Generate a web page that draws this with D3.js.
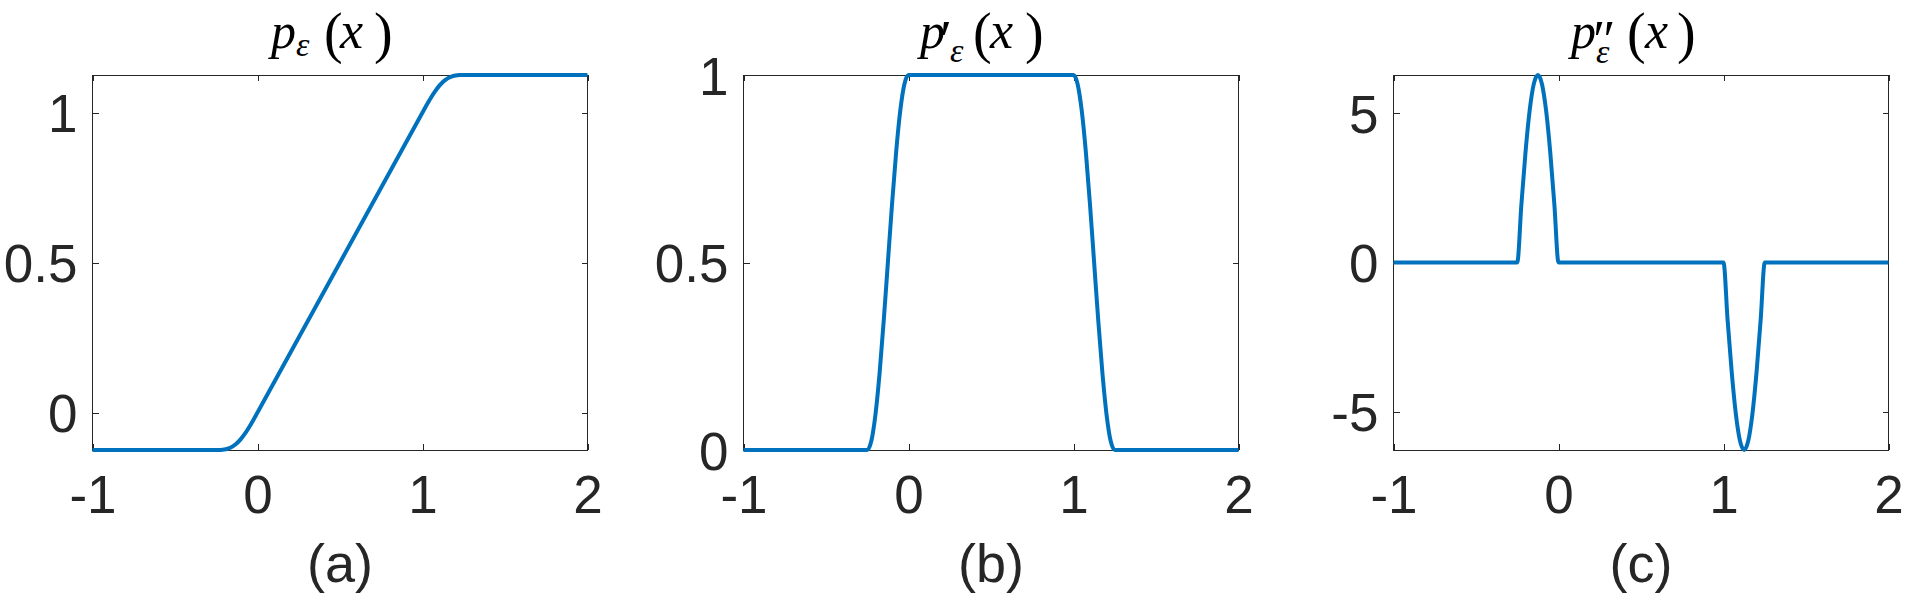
<!DOCTYPE html>
<html>
<head>
<meta charset="utf-8">
<script src="https://d3js.org/d3.v7.min.js"></script>
<style>
body { margin: 0; background: #fff; }
svg { display: block; }
</style>
</head>
<body>
<script>
// values (shared x samples)
var xVals   = [-1, -0.25, -0.225, -0.2, -0.175, -0.15, -0.125, -0.1, -0.075, -0.05, -0.025, 0,
               1, 1.025, 1.05, 1.075, 1.1, 1.125, 1.15, 1.175, 1.2, 1.225, 1.25, 2];
var pVals   = [-0.125, -0.125, -0.1248, -0.1234, -0.1197, -0.1128, -0.1023, -0.0878, -0.0697, -0.0484, -0.0248, 0,
               1, 1.0248, 1.0484, 1.0697, 1.0878, 1.1023, 1.1128, 1.1197, 1.1234, 1.1248, 1.125, 1.125];
var dpVals  = [0, 0, 0.0245, 0.0955, 0.2061, 0.3455, 0.5, 0.6545, 0.7939, 0.9045, 0.9755, 1,
               1, 0.9755, 0.9045, 0.7939, 0.6545, 0.5, 0.3455, 0.2061, 0.0955, 0.0245, 0, 0];
var ddpVals = [0, 0, 1.9416, 3.6932, 5.0832, 5.9757, 6.2832, 5.9757, 5.0832, 3.6932, 1.9416, 0,
               0, -1.9416, -3.6932, -5.0832, -5.9757, -6.2832, -5.9757, -5.0832, -3.6932, -1.9416, 0, 0];

var xLim = [-1, 2];
var xTicks = [-1, 0, 1, 2];
var pLim = [-0.125, 1.125],   pTicks = [0, 0.5, 1];
var dpLim = [0, 1],           dpTicks = [0, 0.5, 1];
var ddpLim = [-6.2832, 6.2832], ddpTicks = [-5, 0, 5];
var panelLabels = ["(a)", "(b)", "(c)"];

var W = 1907, H = 596;
var top_ = 75, bottom_ = 450, pw = 495;
var lefts = [92.5, 743.5, 1393.5];
var ink = "#262626";
var sans = "'Liberation Sans', Arial, Helvetica, sans-serif";
var serif = "'Liberation Serif', 'Times New Roman', serif";

var svg = d3.select("body")
    .append("svg")
    .attr("width", W)
    .attr("height", H);

// title pieces: p, primes, subscript epsilon, (x)
var titles = [
    [ {t:"p", dx:-69, y:48, s:50, it:1}, {t:"ε", dx:-44, y:56, s:34, it:1},
      {t:"(", dx:-16, y:52, s:56}, {t:"x", dx:0, y:48, s:52, it:1}, {t:")", dx:34, y:52, s:56} ],
    [ {t:"p", dx:-71, y:48, s:50, it:1}, {t:"′", dx:-51, y:58, s:54}, {t:"ε", dx:-41, y:62, s:34, it:1},
      {t:"(", dx:-18, y:52, s:56}, {t:"x", dx:-1, y:48, s:52, it:1}, {t:")", dx:34, y:52, s:56} ],
    [ {t:"p", dx:-70, y:48, s:50, it:1}, {t:"″", dx:-48, y:58, s:54}, {t:"ε", dx:-45, y:63, s:34, it:1},
      {t:"(", dx:-14, y:52, s:56}, {t:"x", dx:4, y:48, s:52, it:1}, {t:")", dx:36, y:52, s:56} ]
];

function drawPanel(i, yVals, yLim, yTicks) {
    var x0 = lefts[i];
    var xScale = d3.scaleLinear().domain(xLim).range([x0, x0 + pw]);
    var yScale = d3.scaleLinear().domain(yLim).range([bottom_, top_]);
    var g = svg.append("g").attr("class", "panel");
    var cx = x0 + pw / 2;

    // bottom / left axes with labels, ticks pointing inward
    var xAxisG = g.append("g")
        .attr("transform", "translate(0," + bottom_ + ")")
        .call(d3.axisBottom(xScale).tickValues(xTicks).tickSizeInner(-6).tickSizeOuter(0)
            .tickPadding(25).tickFormat(function (d) { return String(d); }));
    var yAxisG = g.append("g")
        .attr("transform", "translate(" + x0 + ",0)")
        .call(d3.axisLeft(yScale).tickValues(yTicks).tickSizeInner(-6).tickSizeOuter(0)
            .tickPadding(15).tickFormat(function (d) { return String(d); }));
    // mirrored ticks on top / right
    var topG = g.append("g")
        .attr("transform", "translate(0," + top_ + ")")
        .call(d3.axisTop(xScale).tickValues(xTicks).tickSizeInner(-6).tickSizeOuter(0).tickFormat(""));
    var rightG = g.append("g")
        .attr("transform", "translate(" + (x0 + pw) + ",0)")
        .call(d3.axisRight(yScale).tickValues(yTicks).tickSizeInner(-6).tickSizeOuter(0).tickFormat(""));

    [xAxisG, yAxisG, topG, rightG].forEach(function (a) {
        a.attr("color", ink).attr("font-family", sans).attr("font-size", 53);
        a.select(".domain").remove();
        a.selectAll("line").attr("shape-rendering", "crispEdges");
    });
    yAxisG.selectAll("text").attr("dy", "0.36em");

    g.append("rect")
        .attr("x", x0)
        .attr("y", top_)
        .attr("width", pw)
        .attr("height", bottom_ - top_)
        .attr("fill", "none")
        .attr("stroke", ink)
        .attr("stroke-width", 1)
        .attr("shape-rendering", "crispEdges");

    var line = d3.line()
        .x(function (d, k) { return xScale(xVals[k]); })
        .y(function (d) { return yScale(d); })
        .curve(d3.curveMonotoneX);

    g.append("path")
        .datum(yVals)
        .attr("d", line)
        .attr("fill", "none")
        .attr("stroke", "#0072BD")
        .attr("stroke-width", 4)
        .attr("stroke-linejoin", "round");

    // title as one text with positioned pieces
    var title = g.append("text")
        .attr("font-family", serif)
        .attr("fill", "#000");
    titles[i].forEach(function (p) {
        title.append("tspan")
            .attr("x", cx + p.dx)
            .attr("y", p.y)
            .attr("font-style", p.it ? "italic" : "normal")
            .attr("font-size", p.s)
            .text(p.t);
    });

    // panel label under the axis
    g.append("text")
        .attr("x", cx)
        .attr("y", 582)
        .attr("text-anchor", "middle")
        .attr("font-family", sans)
        .attr("font-size", 54)
        .attr("fill", ink)
        .text(panelLabels[i]);
}

drawPanel(0, pVals, pLim, pTicks);
drawPanel(1, dpVals, dpLim, dpTicks);
drawPanel(2, ddpVals, ddpLim, ddpTicks);
</script>
</body>
</html>
